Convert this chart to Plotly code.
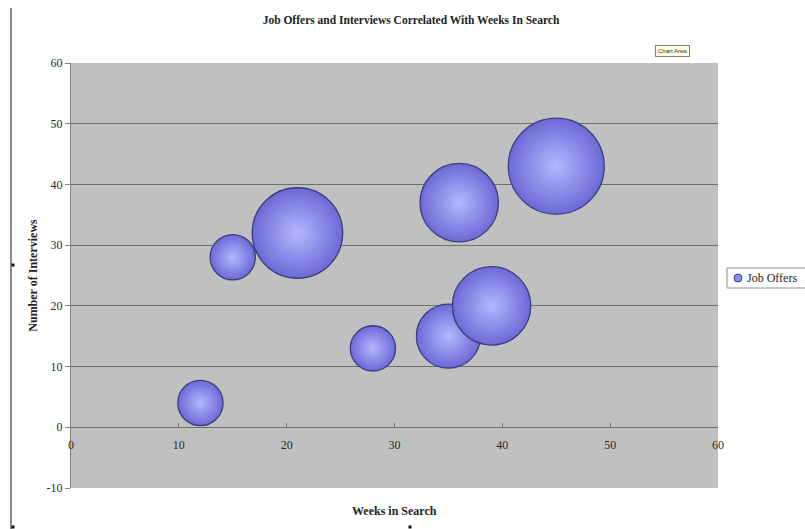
import plotly.graph_objects as go

# Job search data: weeks searched, interviews held, job offers received
weeks = [12, 15, 21, 28, 35, 39, 36, 45]
interviews = [4, 28, 32, 13, 15, 20, 37, 43]
job_offers = [2, 2, 8, 2, 4, 6, 6, 9]
series_name = "Job Offers"

x_ticks = [0, 10, 20, 30, 40, 50, 60]
y_ticks = [-10, 0, 10, 20, 30, 40, 50, 60]

W, H = 805, 529
M_L, M_R, M_T, M_B = 71, 87, 63, 41
PW, PH = W - M_L - M_R, H - M_T - M_B

SERIF = "Liberation Serif"
MAX_DIAM = 96
EDGE = "#6a6ad6"
CENTER = "#b6b6ff"


def px_x(px):
    return (px - M_L) / PW


def px_y(py):
    return (H - M_B - py) / PH


fig = go.Figure()
fig.add_trace(go.Scatter(
    x=weeks,
    y=interviews,
    mode="markers",
    name=series_name,
    showlegend=False,
    marker=dict(
        size=job_offers,
        sizemode="area",
        sizeref=2 * max(job_offers) / MAX_DIAM ** 2,
        color=EDGE,
        gradient=dict(type="radial", color=CENTER),
        line=dict(color="#3c3c7c", width=1.3),
        opacity=1,
    ),
    hoverinfo="x+y+text",
    text=[f"{series_name}: {v}" for v in job_offers],
))

y0_pos = (0 - y_ticks[0]) / (y_ticks[-1] - y_ticks[0])

fig.update_layout(
    width=W,
    height=H,
    margin=dict(l=M_L, r=M_R, t=M_T, b=M_B, autoexpand=False),
    paper_bgcolor="white",
    plot_bgcolor="#c0c0c0",
    font=dict(family=SERIF, color="#222222", size=12),
    title=dict(
        text="<b>Job Offers and Interviews Correlated With Weeks In Search</b>",
        x=411 / W,
        xanchor="center",
        y=1 - 20 / H,
        yanchor="middle",
        font=dict(family=SERIF, size=11.5, color="#222222"),
    ),
    xaxis=dict(
        range=[x_ticks[0], x_ticks[-1]],
        tickvals=x_ticks,
        ticktext=[str(v) for v in x_ticks],
        anchor="free",
        position=y0_pos,
        showgrid=False,
        zeroline=False,
        showline=False,
        ticks="inside",
        ticklen=4,
        tickcolor="#707070",
        ticklabelstandoff=9,
        tickfont=dict(family=SERIF, size=12, color="#2a2a2a"),
        fixedrange=True,
    ),
    yaxis=dict(
        range=[y_ticks[0], y_ticks[-1]],
        tickvals=y_ticks,
        ticktext=[str(v) for v in y_ticks],
        showgrid=True,
        gridcolor="#707070",
        gridwidth=1,
        zeroline=True,
        zerolinecolor="#707070",
        zerolinewidth=1,
        showline=True,
        linecolor="#808080",
        linewidth=1,
        ticks="outside",
        ticklen=5,
        tickcolor="#808080",
        tickfont=dict(family=SERIF, size=12, color="#2a2a2a"),
        title=dict(
            text="<b>Number of Interviews</b>",
            font=dict(family=SERIF, size=12, color="#222222"),
            standoff=6,
        ),
        fixedrange=True,
    ),
    showlegend=False,
)

# x-axis title below the plot area
fig.add_annotation(
    text="<b>Weeks in Search</b>",
    xref="paper", yref="paper",
    x=0.5, y=px_y(511),
    xanchor="center", yanchor="middle",
    showarrow=False,
    font=dict(family=SERIF, size=12, color="#222222"),
)

# legend box, swatch and label for the bubble series
fig.add_shape(
    type="rect", xref="paper", yref="paper",
    x0=px_x(727), x1=px_x(812), y0=px_y(288), y1=px_y(268),
    fillcolor="white", line=dict(color="#909090", width=1),
)
fig.add_shape(
    type="circle", xref="paper", yref="paper",
    x0=px_x(734), x1=px_x(742), y0=px_y(282), y1=px_y(274),
    fillcolor="#8c8cf0", line=dict(color="#3c3c7c", width=1),
)
fig.add_annotation(
    text=series_name,
    xref="paper", yref="paper",
    x=px_x(745), y=px_y(278),
    xanchor="left", yanchor="middle",
    showarrow=False,
    font=dict(family=SERIF, size=12, color="#222222"),
)

# "Chart Area" tooltip
fig.add_annotation(
    text="Chart Area",
    xref="paper", yref="paper",
    x=px_x(672), y=px_y(51),
    xanchor="center", yanchor="middle",
    showarrow=False,
    bgcolor="#ffffe1",
    bordercolor="#808080",
    borderwidth=1,
    borderpad=2,
    font=dict(family="Liberation Sans", size=6, color="#333333"),
)

# chart area left border
fig.add_shape(
    type="line", xref="paper", yref="paper",
    x0=px_x(11), x1=px_x(11), y0=px_y(8), y1=px_y(H),
    line=dict(color="#8a8a8a", width=2),
)

# selection handles
for hx, hy in [(13, 265), (13, 527), (410, 527)]:
    fig.add_shape(
        type="rect", xref="paper", yref="paper",
        x0=px_x(hx - 1.5), x1=px_x(hx + 1.5),
        y0=px_y(hy + 1.5), y1=px_y(hy - 1.5),
        fillcolor="#111111", line=dict(width=0),
    )

fig.write_html("out.html")
